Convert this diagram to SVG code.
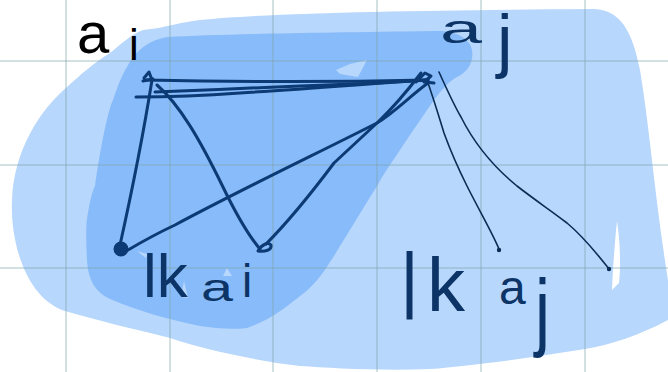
<svg xmlns="http://www.w3.org/2000/svg" width="668" height="372" viewBox="0 0 668 372">
<style>
.grid{stroke:#7fa5ab;stroke-opacity:0.45;stroke-width:1.5;fill:none}
.thick{stroke:#0c3a74;stroke-width:3;fill:none;stroke-linecap:round;stroke-linejoin:round}
.thin{stroke:#0b2c55;stroke-width:1.6;fill:none;stroke-linecap:round}
.lbl{font-family:"Liberation Sans",Arial,sans-serif;fill:#0c3466}
</style>
<rect width="668" height="372" fill="#ffffff"/>
<g id="regions">
<path fill="#b8d7fc" d="M 143,30 C 165,28 180,22 200,20 C 280,12 450,10 590,9 C 620,8 632,30 640,70 C 650,130 655,200 668,280 L 668,320 C 640,335 610,345 585,349 C 530,358 470,366 430,369 C 380,371 330,368 300,366 C 250,360 200,348 170,338 C 130,328 95,320 65,311 C 25,298 10,240 12,200 C 14,150 40,110 67,87 C 80,75 95,62 110,53 C 120,45 130,35 143,30 Z"/>
<path fill="#ffffff" d="M 617,221 C 620,240 621,265 619,283 L 612,290 C 613,265 615,240 617,221 Z"/>
<path fill="#88bbf9" d="M 127,67 C 135,50 150,40 167,37 C 220,34 300,33 434,31 C 455,30 470,38 472,50 C 474,62 468,72 457,77 C 448,82 440,92 434,100 C 420,120 410,135 400,150 C 390,165 383,175 377,186 C 365,205 350,230 334,256 C 322,275 312,288 300,296 C 285,308 270,320 247,328 C 230,330 215,328 200,326 C 170,320 135,310 110,299 C 95,292 88,280 87,260 C 86,240 86,225 87,219 C 90,200 92,192 95,186 C 100,150 108,110 113,100 C 118,85 122,75 127,67 Z"/>
<path fill="#b8d7fc" d="M 336,70 L 350,64 L 367,60 L 358,77 L 340,74 Z"/>
<path fill="#b8d7fc" d="M 137,251 L 147,254 L 146,258 Z M 184,281 L 188,298 L 181,297 Z M 227,268 L 232,276 L 223,276 Z"/>
</g>
<g id="grid" class="grid">
<line x1="66" y1="0" x2="66" y2="372"/>
<line x1="170" y1="0" x2="170" y2="372"/>
<line x1="273" y1="0" x2="273" y2="372"/>
<line x1="377" y1="0" x2="377" y2="372"/>
<line x1="481" y1="0" x2="481" y2="372"/>
<line x1="585" y1="0" x2="585" y2="372"/>
<line x1="0" y1="61" x2="668" y2="61"/>
<line x1="0" y1="165" x2="668" y2="165"/>
<line x1="0" y1="268" x2="668" y2="268"/>
</g>
<g id="connectors">
<path class="thick" d="M 146,80 C 240,82 340,82 428,80"/>
<path class="thick" d="M 136,97 C 170,97 200,96 240,93 C 320,88 390,82 428,80"/>
<path class="thick" d="M 155,92 C 200,90 260,88 300,86 C 360,84 400,82 428,80"/>
<path class="thick" d="M 152,80 C 144,130 130,200 120,245"/>
<path class="thick" d="M 157,85 C 180,105 200,140 222,185 C 235,212 248,235 260,249"/>
<path class="thick" d="M 128,250 C 145,240 160,232 175,225 C 240,190 320,152 377,123 C 395,112 410,96 428,83" stroke-width="2.6"/>
<path class="thick" d="M 266,244 C 290,220 310,195 334,163 C 350,148 365,134 377,123 C 395,106 408,90 421,73" stroke-width="2"/>
<path class="thin" d="M 427,80 C 434,100 440,120 444,133 C 452,155 460,172 467,186 C 480,212 492,232 499,249"/>
<path class="thin" d="M 439,72 C 448,92 455,107 461,117 C 475,145 495,168 517,186 C 535,200 550,210 567,223 C 585,238 598,255 609,269"/>
</g>
<g id="node-ai">
<path class="thick" d="M 144,78 L 149,72 L 152,80 M 143,81 L 153,79"/>
<text x="77" y="53" font-family="Liberation Sans, Arial, sans-serif" font-size="58" fill="#000">a<tspan x="129" y="60" font-size="44">i</tspan></text>
</g>
<g id="node-aj">
<path class="thick" d="M 416,82 L 425,73 L 431,76 L 424,82 L 434,83" stroke-width="2.4"/>
<text x="440" y="43" class="lbl" font-size="40" textLength="42" lengthAdjust="spacingAndGlyphs">a</text>
<text x="497" y="64" class="lbl" font-size="70">j</text>
</g>
<g id="node-lkai">
<circle cx="121" cy="249" r="6.5" fill="#0c3a74" stroke="#0c3a74" stroke-width="2"/>
<path class="thick" d="M 258,251 C 262,244 268,242 271,245 C 272,250 265,252 258,251 Z" stroke-width="2.4"/>
<text class="lbl" x="143" y="297" font-size="62">lk</text>
<text class="lbl" x="201" y="301" font-size="38" textLength="32" lengthAdjust="spacingAndGlyphs">a</text>
<text class="lbl" x="242" y="297" font-size="46">i</text>
</g>
<g id="node-lkaj">
<circle cx="499" cy="250" r="2.2" fill="#0b2c55"/>
<circle cx="609" cy="269" r="2.2" fill="#0b2c55"/>
<text class="lbl" x="402" y="320" font-size="94" textLength="15" lengthAdjust="spacingAndGlyphs">l</text>
<text class="lbl" x="427" y="311" font-size="76">k</text>
<text class="lbl" x="499" y="304" font-size="48">a</text>
<text class="lbl" x="535" y="340" font-size="88" textLength="15" lengthAdjust="spacingAndGlyphs">j</text>
</g>
</svg>
